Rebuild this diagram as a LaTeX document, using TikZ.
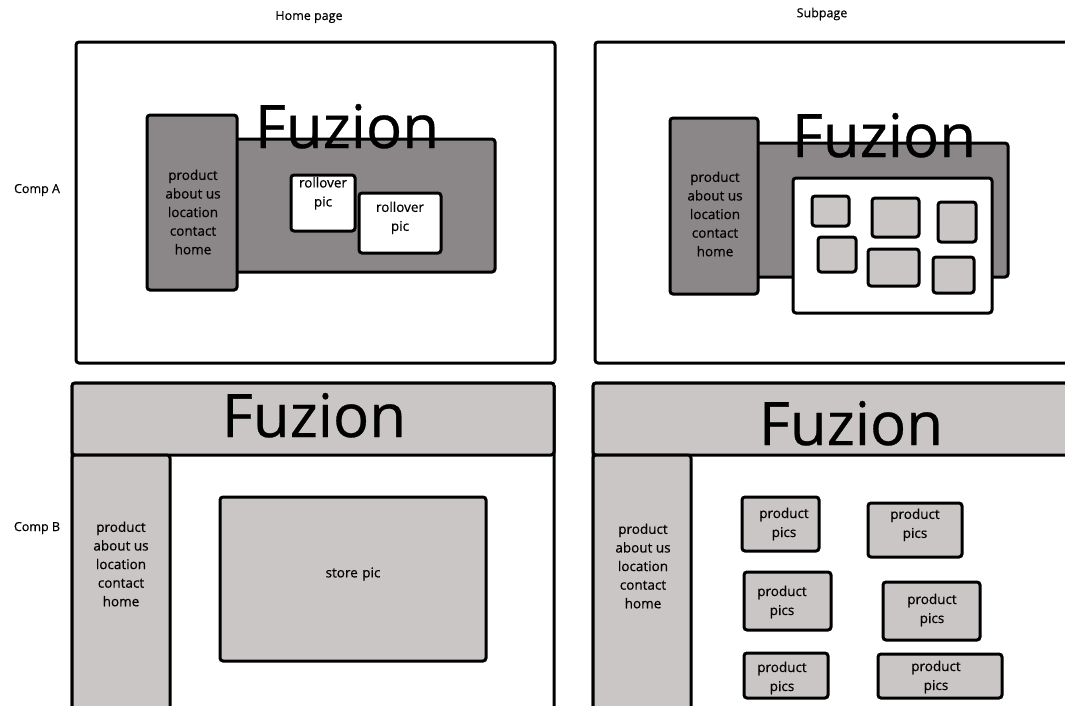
\documentclass[tikz,border=0pt]{standalone}
\usepackage{fontspec}
\setmainfont{Open Sans}
\newfontfamily\heavy[FakeBold=0.5]{Open Sans}
\usetikzlibrary{fit}
\definecolor{dgray}{RGB}{139,135,136}
\definecolor{lgray}{RGB}{202,198,197}
\tikzset{
  frame/.style={draw=black, line width=3pt, rounded corners=3pt, fill=white, inner sep=0pt},
  darkbox/.style={frame, fill=dgray},
  lightbox/.style={frame, fill=lgray},
  whitebox/.style={frame, fill=white},
  navtext/.style={font=\heavy\fontsize{13.5}{18.6}\selectfont, align=center, inner sep=0pt},
  boxtext/.style={font=\heavy\fontsize{13.5}{19}\selectfont, align=center, inner sep=0pt},
  logo/.style={font=\heavy\fontsize{60}{60}\selectfont, inner sep=0pt, anchor=base},
  caption/.style={font=\heavy\fontsize{12.5}{14}\selectfont, inner sep=0pt},
}
\begin{document}
\begin{tikzpicture}[x=1pt,y=-1pt]
\useasboundingbox (0,0) rectangle (1065,705);
\clip (0,0) rectangle (1065,705);
\fill[white] (0,0) rectangle (1065,705);

% column and row captions
\node[caption] (homecap) at (309,17) {Home page};
\node[caption] (subcap) at (822,14) {Subpage};
\node[caption] (compa) at (37,190) {Comp A};
\node[caption] (compb) at (37,528) {Comp B};

% ---- Comp A, home page ----
\node[frame, fit={(76,42) (555,363)}] (ahframe) {};
\node[darkbox, fit={(230,139) (495,272)}] (ahbanner) {};
\node[darkbox, fit={(147,115) (237,290)}] (ahnav) {};
\node[navtext] (ahnavtext) at (193,212) {product\\about us\\location\\contact\\home};
\node[logo] (ahlogo) at (347,148) {Fuzion};
\node[whitebox, fit={(291,175) (355,231)}] (ahroll1) {};
\node[boxtext, anchor=north] (ahroll1text) at (323,177) {rollover\\pic};
\node[whitebox, fit={(359,193) (441,253)}, boxtext] (ahroll2) {rollover\\pic};

% ---- Comp A, subpage ----
\node[frame, fit={(595,42) (1080,363)}] (asframe) {};
\node[darkbox, fit={(750,143) (1008,277)}] (asbanner) {};
\node[darkbox, fit={(670,118) (758,294)}] (asnav) {};
\node[navtext] (asnavtext) at (715,214) {product\\about us\\location\\contact\\home};
\node[whitebox, fit={(793,178) (992,313)}] (ascontent) {};
\node[lightbox, fit={(812,196) (849,226)}] (asthumb1) {};
\node[lightbox, fit={(872,198) (919,237)}] (asthumb2) {};
\node[lightbox, fit={(938,202) (976,242)}] (asthumb3) {};
\node[lightbox, fit={(818,237) (856,272)}] (asthumb4) {};
\node[lightbox, fit={(868,249) (919,286)}] (asthumb5) {};
\node[lightbox, fit={(933,257) (974,293)}] (asthumb6) {};
\node[logo] (aslogo) at (884,157) {Fuzion};

% ---- Comp B, home page ----
\node[frame, fit={(72,383) (554,712)}] (bhframe) {};
\node[lightbox, fit={(72,383) (554,455)}] (bhheader) {};
\node[logo] (bhlogo) at (314,437) {Fuzion};
\node[lightbox, fit={(72,455) (170,712)}] (bhnav) {};
\node[navtext] (bhnavtext) at (121,564) {product\\about us\\location\\contact\\home};
\node[lightbox, fit={(220,497) (486,661)}, boxtext] (bhstore) {store pic};

% ---- Comp B, subpage ----
\node[frame, fit={(593,383) (1080,712)}] (bsframe) {};
\node[lightbox, fit={(593,383) (1080,455)}] (bsheader) {};
\node[logo] (bslogo) at (851,445) {Fuzion};
\node[lightbox, fit={(593,455) (691,712)}] (bsnav) {};
\node[navtext] (bsnavtext) at (643,566) {product\\about us\\location\\contact\\home};
\node[lightbox, fit={(742,497) (819,551)}] (bspic1) {};
\node[boxtext] (bspic1text) at (784,524) {product\\pics};
\node[lightbox, fit={(868,503) (962,557)}, boxtext] (bspic2) {product\\pics};
\node[lightbox, fit={(744,572) (831,630)}] (bspic3) {};
\node[boxtext] (bspic3text) at (782,602) {product\\pics};
\node[lightbox, fit={(883,582) (980,640)}] (bspic4) {};
\node[boxtext] (bspic4text) at (932,610) {product\\pics};
\node[lightbox, fit={(744,653) (828,698)}] (bspic5) {};
\node[boxtext] (bspic5text) at (782,678) {product\\pics};
\node[lightbox, fit={(878,654) (1002,698)}] (bspic6) {};
\node[boxtext] (bspic6text) at (936,677) {product\\pics};
\end{tikzpicture}
\end{document}
